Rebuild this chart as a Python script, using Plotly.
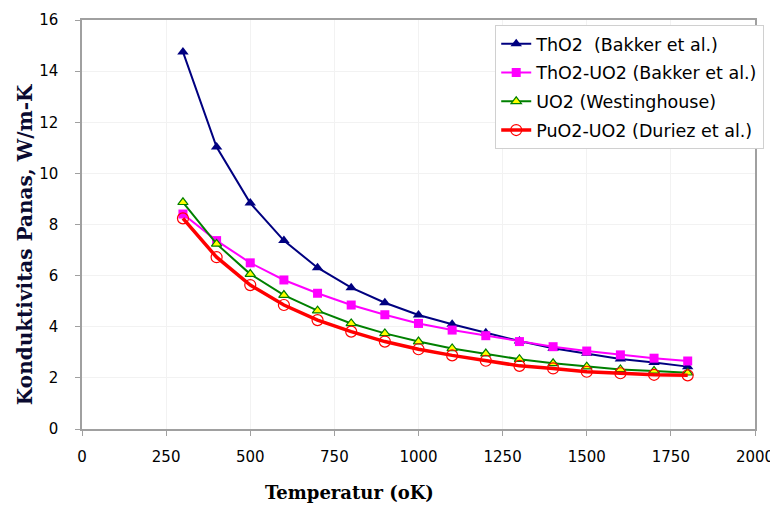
"""
Thermal conductivity of nuclear fuels vs temperature
"""
import plotly.graph_objects as go

temperature = [300, 400, 500, 600, 700, 800, 900, 1000,
               1100, 1200, 1300, 1400, 1500, 1600, 1700, 1800]

tho2 = [14.75, 11.03, 8.84, 7.37, 6.31, 5.53, 4.94, 4.46,
        4.10, 3.77, 3.44, 3.16, 2.96, 2.74, 2.60, 2.44]
tho2_uo2 = [8.41, 7.37, 6.50, 5.83, 5.31, 4.85, 4.47, 4.13,
            3.87, 3.65, 3.42, 3.22, 3.05, 2.90, 2.77, 2.66]
uo2 = [8.87, 7.24, 6.06, 5.24, 4.63, 4.13, 3.74, 3.42,
       3.15, 2.95, 2.73, 2.57, 2.44, 2.33, 2.27, 2.20]
puo2_uo2 = [8.24, 6.72, 5.63, 4.85, 4.26, 3.81, 3.42, 3.12,
            2.88, 2.67, 2.47, 2.37, 2.24, 2.18, 2.12, 2.10]

x_ticks = [0, 250, 500, 750, 1000, 1250, 1500, 1750, 2000]
y_ticks = [0, 2, 4, 6, 8, 10, 12, 14, 16]

fig = go.Figure()

fig.add_trace(
    go.Scatter(
        x=temperature, y=tho2, mode="lines+markers",
        name="ThO2  (Bakker et al.)", legendgroup="a",
        line=dict(color="#000080", width=2),
        marker=dict(symbol="triangle-up", size=10, color="#000080"),
    )
)
fig.add_trace(
    go.Scatter(
        x=temperature, y=tho2_uo2, mode="lines+markers",
        name="ThO2-UO2 (Bakker et al.)", legendgroup="b",
        line=dict(color="#ff00ff", width=2),
        marker=dict(symbol="square", size=9, color="#ff00ff"),
    )
)
fig.add_trace(
    go.Scatter(
        x=temperature, y=uo2, mode="lines+markers",
        name="UO2 (Westinghouse)", legendgroup="c",
        line=dict(color="#008000", width=2),
        marker=dict(symbol="triangle-up", size=9, color="#ffff00",
                    line=dict(color="#008000", width=1.2)),
    )
)
fig.add_trace(
    go.Scatter(
        x=temperature, y=puo2_uo2, mode="lines+markers",
        name="PuO2-UO2 (Duriez et al.)", legendgroup="d",
        line=dict(color="#ff0000", width=3.5),
        marker=dict(symbol="circle-open", size=11, color="#ff0000",
                    line=dict(width=1.2)),
    )
)

axis_common = dict(
    showline=True, mirror=True, linecolor="#a0a0a0", linewidth=1.5,
    showgrid=True, gridcolor="#f2f2f2", gridwidth=1,
    ticks="outside", tickcolor="#a0a0a0", ticklen=5,
    tickfont=dict(family="DejaVu Sans", size=15, color="#000000"),
    zeroline=False, automargin=False,
)

fig.update_xaxes(range=[0, 2000], tickvals=x_ticks, ticklabelstandoff=8,
                 **axis_common)
fig.update_yaxes(range=[0, 16], tickvals=y_ticks, ticklabelstandoff=14,
                 **axis_common)

# axis titles as annotations (they sit off-centre in the original)
fig.add_annotation(
    text="<b>Temperatur (oK)</b>", xref="paper", yref="paper",
    x=0.398, y=-0.156, showarrow=False, xanchor="center", yanchor="middle",
    font=dict(family="DejaVu Serif", size=18, color="#000000"),
)
fig.add_annotation(
    text="<b>Konduktivitas Panas, W/m-K</b>", xref="paper", yref="paper",
    x=-0.0847, y=0.452, showarrow=False, textangle=-90,
    xanchor="center", yanchor="middle",
    font=dict(family="DejaVu Serif", size=20, color="#0a0a30"),
)

# page body has an 8px margin, so shrink by that
fig.update_layout(
    width=770, height=501,
    margin=dict(l=74, r=23, t=12, b=80),
    plot_bgcolor="white", paper_bgcolor="white",
    legend=dict(
        x=0.614, y=0.988, xanchor="left", yanchor="top",
        bgcolor="white", bordercolor="#d0d0d0", borderwidth=1,
        font=dict(family="DejaVu Sans", size=17.5, color="#000000"),
        tracegroupgap=3, itemwidth=30,
    ),
)

fig.write_html("out.html")
